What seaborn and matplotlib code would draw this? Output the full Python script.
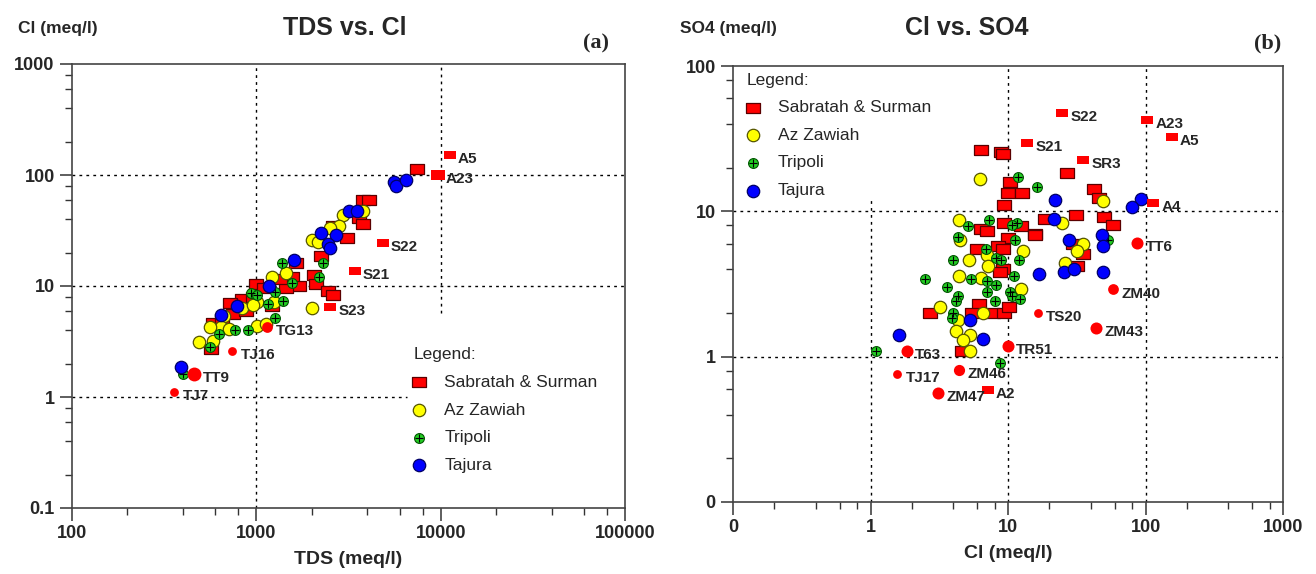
import matplotlib
matplotlib.use("Agg")
import matplotlib.pyplot as plt
import seaborn as sns
from matplotlib.ticker import LogLocator, FixedLocator, FixedFormatter, NullFormatter

# ---- panel (a): TDS vs Cl ----
sab_tds = [7400, 3800, 4100, 3600, 3800, 3100, 2600, 2250, 1650, 2050, 2100, 2450, 2600, 1570,
           1700, 1450, 990, 840, 720, 750, 1220, 580, 570, 960, 1100, 880, 650, 1350]
sab_cl = [113, 60, 59, 41, 36, 27, 35, 18.5, 16, 12.5, 10.4, 9.0, 8.3, 12,
          10, 9.6, 10.4, 7.6, 7.0, 5.6, 6.6, 4.6, 2.7, 8, 9.5, 6.0, 5.0, 11.5]
zaw_tds = [3800, 2950, 2800, 2500, 2000, 2170, 1450, 1210, 1010, 840, 670, 640, 560, 490,
           580, 710, 1010, 1130, 1240, 2000, 960]
zaw_cl = [47, 44, 35, 33, 26, 25, 13, 12, 7.2, 6.4, 5.4, 4.3, 4.3, 3.1,
          3.2, 4.1, 4.4, 4.5, 7.2, 6.3, 6.7]
tri_tds = [1370, 2300, 2200, 1570, 1270, 1400, 1150, 1270, 900, 770, 630, 400, 560, 930, 1010]
tri_cl = [16, 16, 12, 10.7, 8.9, 7.3, 6.9, 5.1, 4.0, 4.0, 3.7, 1.6, 2.8, 8.6, 8.3]
taj_tds = [5600, 5700, 6500, 3200, 3500, 2250, 2700, 2450, 2500, 1600, 1170, 790, 640, 390]
taj_cl = [86, 80, 90, 47, 47, 30, 29, 24, 22, 17, 10, 6.6, 5.5, 1.86]

lab_a_names = ["A5", "A23", "S22", "S21", "S23", "TG13", "TJ16", "TT9", "TJ7"]
lab_a_tds = [11200, 9640, 4840, 3410, 2525, 1148, 741, 460, 358]
lab_a_cl = [151, 100, 24.4, 13.6, 6.5, 4.27, 2.6, 1.61, 1.11]
lab_a_kind = ["sq", "sq", "sq", "sq", "sq", "ci", "ci", "ci", "ci"]

# ---- panel (b): Cl vs SO4 ----
sab2_cl = [6.4, 8.9, 9.2, 10.3, 10, 12.6, 9.4, 9.4, 12.4, 15.7, 6.4, 7.0, 10, 8.5, 9.2, 6.0,
           9.2, 8.7, 6.2, 5.5, 7.8, 9.4, 10.2, 2.7, 4.6, 26.8, 42, 46, 31.3, 18.6, 50, 57.6,
           15.6, 29.7, 35, 32]
sab2_so4 = [26.4, 25.6, 24.9, 15.9, 13.3, 13.3, 11.1, 8.3, 7.9, 7.0, 7.6, 7.3, 6.6, 5.8, 5.5, 5.5,
            4.0, 3.8, 2.3, 2.0, 2.0, 2.0, 2.2, 2.0, 1.1, 18.3, 14.2, 12.3, 9.5, 8.9, 9.2, 8.1,
            6.9, 6.0, 5.1, 4.2]
zaw2_cl = [6.3, 4.4, 4.5, 12.9, 7.0, 5.2, 7.2, 4.4, 6.4, 12.4, 3.2, 6.6, 4.3, 4.2, 5.3, 5.3,
           4.7, 49, 24.7, 35, 32, 26]
zaw2_so4 = [16.7, 8.7, 6.4, 5.3, 5.0, 4.6, 4.2, 3.6, 3.5, 2.9, 2.2, 2.0, 1.8, 1.5, 1.4, 1.1,
            1.3, 11.7, 8.3, 6.0, 5.3, 4.4]
tri2_cl = [11.8, 16.3, 7.3, 5.1, 11.7, 10.7, 4.3, 11.3, 6.9, 8.2, 8.9, 4.0, 12.0, 11.1, 2.5,
           5.4, 7.0, 3.6, 8.2, 7.0, 10.3, 4.3, 10.7, 12.3, 4.2, 8.0, 4.0, 3.9, 1.09, 8.7, 53.5]
tri2_so4 = [17.2, 14.7, 8.7, 7.9, 8.3, 8.0, 6.7, 6.4, 5.5, 4.8, 4.6, 4.6, 4.6, 3.6, 3.4,
            3.4, 3.3, 3.0, 3.1, 2.8, 2.8, 2.6, 2.6, 2.5, 2.4, 2.4, 2.0, 1.85, 1.1, 0.91, 6.3]
taj2_cl = [22, 92, 80, 21.6, 28, 48.5, 49, 16.7, 25.5, 30.3, 49, 5.3, 1.6, 6.6]
taj2_so4 = [11.9, 12.1, 10.7, 8.9, 6.4, 6.9, 5.8, 3.7, 3.8, 4.0, 3.8, 1.8, 1.4, 1.32]

lab_b_names = ["S22", "A23", "A5", "S21", "SR3", "A4", "A2",
               "TT6", "ZM40", "TS20", "ZM43", "TR51", "T63", "TJ17", "ZM46", "ZM47"]
lab_b_cl = [24.7, 103, 155, 13.7, 35, 114, 7.1, 87.4, 58, 16.4, 43.7, 10, 1.83, 1.57, 4.4, 3.1]
lab_b_so4 = [47.4, 42.4, 32.4, 29.4, 22.5, 11.5, 0.59, 6.1, 2.9, 2.0, 1.58, 1.19, 1.1, 0.76, 0.81, 0.56]
lab_b_kind = ["sq"] * 7 + ["ci"] * 9

group_names = ["Sabratah & Surman", "Az Zawiah", "Tripoli", "Tajura"]

RECT = [(-1.4, -1), (1.4, -1), (1.4, 1), (-1.4, 1), (-1.4, -1)]


def draw_groups(ax, xs, ys):
    sns.scatterplot(x=xs[0], y=ys[0], ax=ax, marker=RECT, s=110, color="#ff0000",
                    edgecolor="#5a0000", linewidth=0.9, zorder=3)
    sns.scatterplot(x=xs[1], y=ys[1], ax=ax, marker="o", s=80, color="#ffff00",
                    edgecolor="#555500", linewidth=0.9, zorder=4)
    sns.scatterplot(x=xs[2], y=ys[2], ax=ax, marker="o", s=50, color="#22cc22",
                    edgecolor="#005500", linewidth=0.8, zorder=5)
    sns.scatterplot(x=xs[2], y=ys[2], ax=ax, marker="+", s=30, color="black",
                    linewidth=0.8, zorder=5)
    sns.scatterplot(x=xs[3], y=ys[3], ax=ax, marker="o", s=80, color="#0000ff",
                    edgecolor="#000066", linewidth=0.9, zorder=6)
    colls = ax.collections
    return colls[-5], colls[-4], (colls[-3], colls[-2]), colls[-1]


def draw_labels(ax, xs, ys, names, kinds, sizes):
    for x, y, n, k, s in zip(xs, ys, names, kinds, sizes):
        m = RECT if k == "sq" else "o"
        ax.scatter([x], [y], marker=m, s=s, color="#ff0000", linewidth=0, zorder=7)
        ax.annotate(n, (x, y), xytext=(6, -3), textcoords="offset points",
                    fontsize=11, fontweight="bold", va="center", ha="left", zorder=8)


def style_axes(ax, xlim, ylim, xlabels, ylabels):
    ax.set_xscale("log")
    ax.set_yscale("log")
    ax.set_xlim(*xlim)
    ax.set_ylim(*ylim)
    for axis, lim, labs in ((ax.xaxis, xlim, xlabels), (ax.yaxis, ylim, ylabels)):
        majors = [lim[0] * 10 ** i for i in range(len(labs))]
        axis.set_major_locator(FixedLocator(majors))
        axis.set_major_formatter(FixedFormatter(labs))
        axis.set_minor_locator(LogLocator(base=10, subs=(2, 4, 6, 8)))
        axis.set_minor_formatter(NullFormatter())
    ax.tick_params(which="major", length=9, width=1.1, labelsize=13, color="#333333")
    ax.tick_params(which="minor", length=5, width=1.0, color="#333333")
    for t in ax.get_xticklabels() + ax.get_yticklabels():
        t.set_fontweight("bold")
    for sp in ax.spines.values():
        sp.set_visible(True)
        sp.set_color("#444444")
        sp.set_linewidth(1.2)
    ax.set_ylabel("")


def legend(ax, handles, **kw):
    leg = ax.legend(handles=list(handles), labels=group_names, title="Legend:", frameon=False,
                    fontsize=12.5, title_fontsize=12.5, alignment="left",
                    handlelength=0.7, handletextpad=1.1, labelspacing=0.72,
                    borderaxespad=0, borderpad=0, **kw)
    return leg


sns.set_style("ticks")
plt.rcParams["font.family"] = ["Liberation Sans", "DejaVu Sans"]

fig = plt.figure(figsize=(13.16, 5.74), dpi=100)
ax1 = fig.add_axes([72 / 1316, 1 - 508 / 574, 553 / 1316, 444 / 574])
ax2 = fig.add_axes([733 / 1316, 1 - 502 / 574, 550 / 1316, 436 / 574])

grid = dict(color="black", lw=1.0, ls=(0, (2, 3)), zorder=1)

# panel a
h1 = draw_groups(ax1, [sab_tds, zaw_tds, tri_tds, taj_tds], [sab_cl, zaw_cl, tri_cl, taj_cl])
draw_labels(ax1, lab_a_tds, lab_a_cl, lab_a_names, lab_a_kind,
            [80, 90, 80, 80, 80, 60, 40, 100, 40])
style_axes(ax1, (100, 100000), (0.1, 1000), ["100", "1000", "10000", "100000"],
           ["0.1", "1", "10", "100", "1000"])
ax1.axhline(100, **grid)
ax1.axhline(10, **grid)
ax1.axhline(1, xmax=0.606, **grid)
ax1.axvline(1000, **grid)
ax1.axvline(10000, ymin=0.44, **grid)
ax1.set_xlabel("TDS (meq/l)", fontsize=14, fontweight="bold", labelpad=6)
legend(ax1, h1, loc="upper left", bbox_to_anchor=(0.617, 0.362))

# panel b
h2 = draw_groups(ax2, [sab2_cl, zaw2_cl, tri2_cl, taj2_cl], [sab2_so4, zaw2_so4, tri2_so4, taj2_so4])
draw_labels(ax2, lab_b_cl, lab_b_so4, lab_b_names, lab_b_kind,
            [80] * 7 + [75, 60, 40, 75, 75, 75, 40, 65, 75])
style_axes(ax2, (0.1, 1000), (0.1, 100), ["0", "1", "10", "100", "1000"],
           ["0", "1", "10", "100"])
ax2.axhline(10, **grid)
ax2.axhline(1, **grid)
ax2.axvline(1, ymax=0.70, **grid)
ax2.axvline(10, **grid)
ax2.axvline(100, **grid)
ax2.set_xlabel("Cl (meq/l)", fontsize=14, fontweight="bold", labelpad=6)
legend(ax2, h2, loc="upper left", bbox_to_anchor=(0.025, 0.985))

# headers
fig.text(18 / 1316, 1 - 28 / 574, "Cl (meq/l)", fontsize=12.5, fontweight="bold", va="center")
fig.text(345 / 1316, 1 - 28 / 574, "TDS vs. Cl", fontsize=18, fontweight="bold",
         va="center", ha="center")
fig.text(596 / 1316, 1 - 43 / 574, "(a)", fontsize=16, fontweight="bold", va="center",
         ha="center", family="Liberation Serif")
fig.text(680 / 1316, 1 - 28 / 574, "SO4 (meq/l)", fontsize=12.5, fontweight="bold", va="center")
fig.text(967 / 1316, 1 - 28 / 574, "Cl vs. SO4", fontsize=18, fontweight="bold",
         va="center", ha="center")
fig.text(1268 / 1316, 1 - 43 / 574, "(b)", fontsize=16, fontweight="bold", va="center",
         ha="center", family="Liberation Serif")

fig.savefig("out.png", dpi=100)
